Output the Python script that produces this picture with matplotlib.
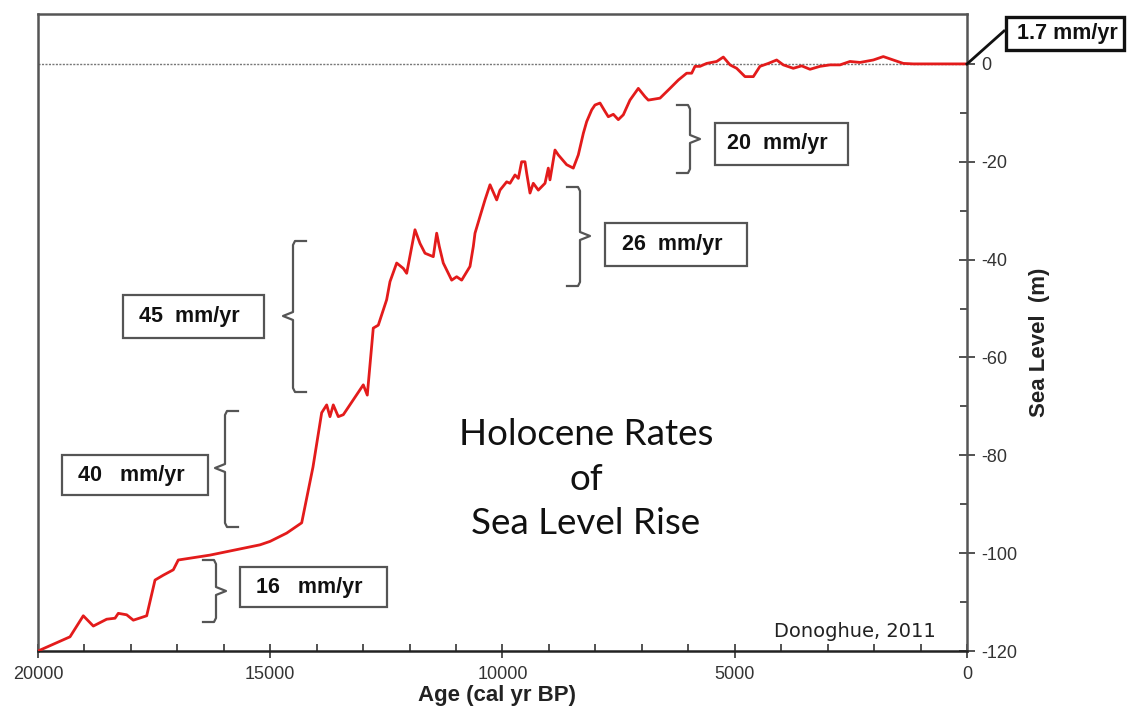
import matplotlib
matplotlib.use("Agg")
import matplotlib.pyplot as plt
from matplotlib.patches import Rectangle

# ---- data ----
age = [20000, 19311, 19025, 18809, 18521, 18342, 18271, 18091, 17948, 17660,
       17481, 17302, 17087, 16980, 16297, 15221, 15005, 14646, 14323, 14080,
       13893, 13785, 13714, 13643, 13535, 13427, 12997, 12911, 12782, 12674,
       12494, 12422, 12278, 12135, 12063, 11884, 11776, 11668, 11490, 11417,
       11361, 11275, 11094, 10987, 10879, 10700, 10628, 10592, 10485, 10377,
       10269, 10125, 10054, 9910, 9839, 9731, 9659, 9588, 9516, 9480,
       9408, 9337, 9229, 9085, 9014, 8978, 8870, 8799, 8619, 8476,
       8368, 8260, 8188, 8080, 8009, 7901, 7794, 7722, 7614, 7507,
       7399, 7256, 7076, 6932, 6861, 6609, 6394, 6215, 6035, 5927,
       5856, 5748, 5605, 5389, 5246, 5102, 4959, 4779, 4600, 4457,
       4278, 4098, 3955, 3740, 3560, 3380, 3165, 2950, 2734, 2519,
       2304, 2017, 1802, 1587, 1372, 1156, 726, 366, 0]
sea_level = [-120.0, -117.1, -112.8, -114.9, -113.5, -113.3, -112.3, -112.6, -113.7, -112.8,
             -105.5, -104.5, -103.4, -101.4, -100.4, -98.3, -97.6, -95.9, -93.8, -82.4,
             -71.3, -69.7, -72.1, -69.7, -72.1, -71.7, -65.6, -67.7, -54.0, -53.4,
             -48.2, -44.5, -40.7, -41.8, -42.8, -33.9, -36.7, -38.7, -39.4, -34.6,
             -37.3, -40.7, -44.2, -43.5, -44.2, -41.4, -37.3, -34.6, -31.2, -27.8,
             -24.7, -27.8, -25.8, -24.1, -24.4, -22.7, -23.4, -20.0, -20.0, -22.3,
             -26.4, -24.4, -25.8, -24.4, -21.3, -23.7, -17.6, -18.6, -20.6, -21.3,
             -18.6, -14.2, -11.8, -9.4, -8.4, -8.0, -9.7, -10.8, -10.3, -11.4,
             -10.4, -7.4, -5.0, -6.7, -7.4, -7.0, -5.0, -3.3, -1.9, -1.9,
             -0.5, -0.5, 0.1, 0.5, 1.4, -0.2, -0.9, -2.6, -2.6, -0.5,
             0.1, 0.8, -0.2, -0.9, -0.4, -1.1, -0.5, -0.2, -0.2, 0.5,
             0.3, 0.8, 1.5, 0.8, 0.1, 0.0, 0.0, 0.0, 0.0]

rate_labels = ["45  mm/yr", "40   mm/yr", "16   mm/yr", "26  mm/yr", "20  mm/yr"]
modern_label = "1.7 mm/yr"
x_ticks = [20000, 15000, 10000, 5000, 0]
y_ticks = [0, -20, -40, -60, -80, -100, -120]

# ---- figure ----
W, H = 1130, 715
fig = plt.figure(figsize=(W / 100, H / 100), dpi=100)
L, R, T, B = 38, 967, 14, 651
ax = fig.add_axes([L / W, 1 - B / H, (R - L) / W, (B - T) / H])

YTOP = 10.2
ax.set_xlim(20000, 0)
ax.set_ylim(-120, YTOP)
# pixel -> data helpers (layout only)
XPX = 20000 / (R - L)
YPX = (YTOP + 120) / (B - T)

def px2data(px, py):
    return 20000 - (px - L) * XPX, YTOP - (py - T) * YPX

ax.axhline(0, color="#777777", lw=1.0, ls=(0, (1.5, 1.0)), zorder=1)
ax.plot(age, sea_level, color="#e31b1b", lw=2.0, zorder=3, solid_joinstyle="round")

# spines
for s in ["left", "top", "right"]:
    ax.spines[s].set_color("#555555")
    ax.spines[s].set_linewidth(1.8)
ax.spines["bottom"].set_color("#222222")
ax.spines["bottom"].set_linewidth(1.8)

# ticks
ax.set_xticks(x_ticks)
ax.set_xticks(range(0, 20001, 1000), minor=True)
ax.set_xticklabels([str(v) for v in x_ticks])
ax.yaxis.tick_right()
ax.set_yticks(y_ticks)
ax.set_yticks(range(-120, 1, 10), minor=True)
ax.set_yticklabels([str(v) for v in y_ticks])
ax.tick_params(axis="x", which="major", direction="inout", length=10, width=1.3,
               color="#444444", labelcolor="#333333", pad=6, labelsize=13)
ax.tick_params(axis="x", which="minor", direction="in", length=5, width=1.3, color="#444444")
ax.tick_params(axis="y", which="major", direction="inout", length=12, width=1.3,
               color="#444444", labelcolor="#333333", pad=4, labelsize=13,
               left=False, right=True, labelleft=False, labelright=True)
ax.tick_params(axis="y", which="minor", direction="in", length=5, width=1.3,
               color="#444444", left=False, right=True)
for lab in ax.get_xticklabels() + ax.get_yticklabels():
    lab.set_family("Liberation Sans")

# axis labels
fig.text(497 / W, 1 - 696 / H, "Age (cal yr BP)", ha="center", va="center",
         family="Liberation Sans", weight="bold", size=16, color="#222222")
fig.text(1040 / W, 1 - 342 / H, "Sea Level  (m)", ha="center", va="center", rotation=90,
         family="Liberation Sans", weight="bold", size=16, color="#222222")

# title in plot
ax.text(*px2data(586, 479), "Holocene Rates\nof\nSea Level Rise", ha="center", va="center",
        family="Lato", size=26.5, color="#111111", linespacing=1.42)

# credit
ax.text(*px2data(855, 631), "Donoghue, 2011", ha="center", va="center",
        family="DejaVu Sans", size=14, color="#222222")

# boxes: (label, x0, y0, x1, y1) in pixels
boxes = [
    (rate_labels[0], 123, 295, 264, 338),
    (rate_labels[1], 62, 455, 208, 495),
    (rate_labels[2], 240, 567, 387, 607),
    (rate_labels[3], 605, 223, 747, 266),
    (rate_labels[4], 715, 123, 848, 165),
]
for lab, x0, y0, x1, y1 in boxes:
    ax0, ay0 = px2data(x0, y1)
    ax1, ay1 = px2data(x1, y0)
    ax.add_patch(Rectangle((ax0, ay0), ax1 - ax0, ay1 - ay0, fill=False,
                           ec="#555555", lw=1.6, zorder=4))
    cx, cy = px2data((x0 + x1) / 2 - 4, (y0 + y1) / 2)
    ax.text(cx, cy, lab, ha="center", va="center", family="Liberation Sans",
            weight="bold", size=15.5, color="#111111", zorder=5)

# modern box outside axes
mx0, my0 = px2data(1006, 50)
mx1, my1 = px2data(1124, 17)
ax.add_patch(Rectangle((mx0, my0), mx1 - mx0, my1 - my0, fill=False, ec="#111111",
                       lw=2.4, clip_on=False, zorder=4))
ax.text(*px2data(1067, 33.5), modern_label, ha="center", va="center",
        family="Liberation Sans", weight="bold", size=15.5, color="#111111",
        clip_on=False)
cx0, cy0 = px2data(967, 64)
cx1, cy1 = px2data(1004, 31)
ax.plot([cx0, cx1], [cy0, cy1], color="#111111", lw=2.0, clip_on=False, zorder=5)

# brackets: (x, top, bottom, mid, direction) in pixels; direction -1 -> "{" (point left)
brackets = [
    (293, 241, 392, 316, -1),
    (225, 411, 527, 468, -1),
    (216, 560, 622, 591, 1),
    (580, 187, 286, 236, 1),
    (690, 105, 173, 139, 1),
]
for x, top, bot, mid, d in brackets:
    h = 13  # hook length
    c = 4
    pts = [(x - d * h, top), (x - d * 2, top), (x, top + c), (x, mid - c),
           (x + d * 10, mid), (x, mid + c), (x, bot - c), (x - d * 2, bot), (x - d * h, bot)]
    dat = [px2data(px, py) for px, py in pts]
    ax.plot([p[0] for p in dat], [p[1] for p in dat], color="#555555", lw=1.6,
            zorder=4, solid_joinstyle="round")

fig.savefig("out.png", dpi=100, facecolor="white")
